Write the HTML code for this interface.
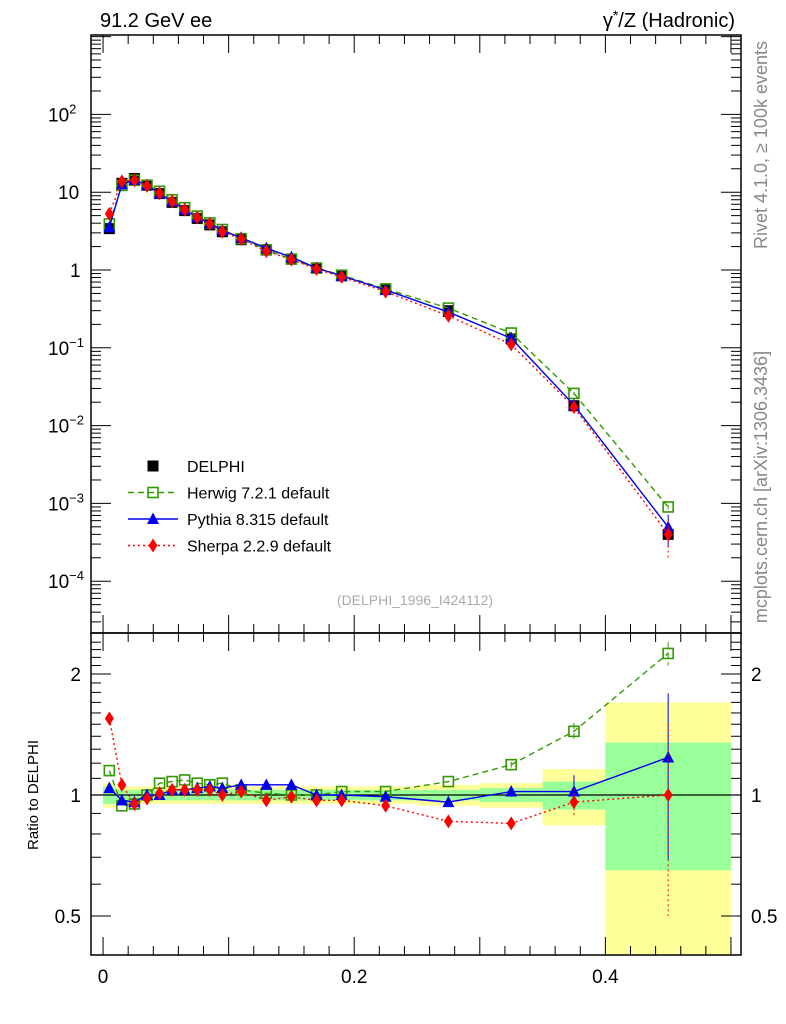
<!DOCTYPE html>
<html><head><meta charset="utf-8"><style>
body{margin:0;background:#fff;}
svg{display:block;font-family:"Liberation Sans",sans-serif;}
</style></head><body>
<svg id="c" width="786" height="1024"></svg>
<script>
const xs=[0.005,0.015,0.025,0.035,0.045,0.055,0.065,0.075,0.085,0.095,0.11,0.13,0.15,0.17,0.19,0.225,0.275,0.325,0.375,0.45];
const edges=[0,0.01,0.02,0.03,0.04,0.05,0.06,0.07,0.08,0.09,0.1,0.12,0.14,0.16,0.18,0.2,0.25,0.3,0.35,0.4,0.5];
const delphi=[3.4,13,15,12.3,9.6,7.4,5.8,4.6,3.8,3.1,2.45,1.8,1.38,1.06,0.84,0.56,0.30,0.13,0.018,0.0004];
const herwigRatio=[1.15,0.94,0.95,1.0,1.07,1.08,1.09,1.07,1.06,1.07,1.03,1.01,1.0,1.0,1.02,1.02,1.08,1.19,1.44,2.25];
const pythiaRatio=[1.04,0.97,0.96,1.0,1.0,1.03,1.03,1.04,1.05,1.04,1.06,1.06,1.06,1.0,1.0,0.99,0.96,1.02,1.02,1.24];
const sherpaRatio=[1.55,1.06,0.95,0.98,1.01,1.03,1.03,1.03,1.03,1.0,1.02,0.97,0.99,0.97,0.97,0.94,0.86,0.85,0.96,1.0];
const statBand=[0.05,0.03,0.03,0.03,0.03,0.03,0.03,0.03,0.03,0.03,0.03,0.03,0.03,0.03,0.03,0.03,0.03,0.04,0.08,0.35];
const totBand=[0.07,0.05,0.05,0.05,0.05,0.05,0.05,0.05,0.05,0.05,0.05,0.05,0.05,0.05,0.05,0.05,0.06,0.07,0.16,0.7];
const mainTicks=[2,1,0,-1,-2,-3,-4];
const ratioTicks=[2,1,0.5];
const xTicks=[0,0.2,0.4];

const NS="http://www.w3.org/2000/svg";
const svg=document.getElementById('c');
function el(t,a,p){const e=document.createElementNS(NS,t);for(const k in a)e.setAttribute(k,a[k]);(p||svg).appendChild(e);return e;}
const L=91,R=741,T=35,M=633,B=955;
const X=v=>L+(v+0.0096)/(0.5176)*(R-L);
const YM=v=>270-Math.log10(v)*77.8;
const YR=v=>795-Math.log2(v)*121;

const gb=el('g',{});


for(let i=0;i<xs.length;i++){
  const x0=X(edges[i]),x1=X(edges[i+1]);
  const t1=Math.min(2.5,1+totBand[i]),t0=Math.max(0.4,1-totBand[i]);
  el('rect',{x:x0,y:YR(t1),width:x1-x0,height:YR(t0)-YR(t1),fill:'#ffff99'},gb);
  const s1=1+statBand[i],s0=1-statBand[i];
  el('rect',{x:x0,y:YR(s1),width:x1-x0,height:YR(s0)-YR(s1),fill:'#99ff99'},gb);
}
el('line',{x1:L,x2:R,y1:YR(1),y2:YR(1),stroke:'#000','stroke-width':1.3});

const f1=el('rect',{x:L,y:T,width:R-L,height:M-T,fill:'none',stroke:'#000','stroke-width':1.5});

const f2=el('rect',{x:L,y:M,width:R-L,height:B-M,fill:'none',stroke:'#000','stroke-width':1.5});


for(let d=-5;d<=3;d++){
  for(let m=1;m<10;m++){
    const v=m*Math.pow(10,d),y=YM(v);
    if(y<T||y>M)continue;
    const len=m===1?20:10;
    el('line',{x1:L,x2:L+len,y1:y,y2:y,stroke:'#000'});
    el('line',{x1:R,x2:R-len,y1:y,y2:y,stroke:'#000'});
  }
}
const labels={2:'10<tspan dy="-8" font-size="13">2</tspan>',1:'10',0:'1',[-1]:'10<tspan dy="-8" font-size="13">−1</tspan>',[-2]:'10<tspan dy="-8" font-size="13">−2</tspan>',[-3]:'10<tspan dy="-8" font-size="13">−3</tspan>',[-4]:'10<tspan dy="-8" font-size="13">−4</tspan>'};
mainTicks.forEach(d=>{
  const t=el('text',{x:d<0||d==2?48:(d==1?58:70),y:YM(Math.pow(10,d))+7,'font-size':19});
  t.innerHTML=labels[d];
  
});
[0.4,0.5,0.6,0.7,0.8,0.9,1,2].forEach(v=>{
  const y=YR(v),len=(v===0.5||v===1||v===2)?20:10;
  el('line',{x1:L,x2:L+len,y1:y,y2:y,stroke:'#000'});
  el('line',{x1:R,x2:R-len,y1:y,y2:y,stroke:'#000'});
});
for(let v=1.1;v<2.5;v+=0.1){const y=YR(v);if(y<M)continue;el('line',{x1:L,x2:L+10,y1:y,y2:y,stroke:'#000'});el('line',{x1:R,x2:R-10,y1:y,y2:y,stroke:'#000'});}
ratioTicks.forEach(v=>{
  const s=String(v);
  const t=el('text',{x:L-10,y:YR(v)+7,'font-size':19,'text-anchor':'end'});t.textContent=s;
  
  const t2=el('text',{x:R+10,y:YR(v)+7,'font-size':19});t2.textContent=s;
  
});
for(let v=0;v<=0.5001;v+=0.02){
  const x=X(v),major=Math.abs(v*10-Math.round(v*10))<1e-6;
  const len=major?18:9;
  [[T,1],[M,-1],[M,1],[B,-1]].forEach(([y,s])=>el('line',{x1:x,x2:x,y1:y,y2:y+s*len,stroke:'#000'}));
}
xTicks.forEach(v=>{
  const t=el('text',{x:X(v),y:983,'font-size':19,'text-anchor':'middle'});t.textContent=v===0?'0':String(v);
  
});

function marker(kind,x,y,g){
  if(kind==='sq')el('rect',{x:x-5.5,y:y-5.5,width:11,height:11,fill:'#000'},g);
  if(kind==='osq')el('rect',{x:x-5,y:y-5,width:10,height:10,fill:'#fff','fill-opacity':0,stroke:'#339900','stroke-width':1.6},g);
  if(kind==='tri')el('polygon',{points:`${x},${y-6.5} ${x-6},${y+5} ${x+6},${y+5}`,fill:'#0000ee'},g);
  if(kind==='dia')el('polygon',{points:`${x},${y-7} ${x-4.5},${y} ${x},${y+7} ${x+4.5},${y}`,fill:'#ff0000'},g);
}
const series=[
 {name:'herwig',ratio:herwigRatio,color:'#339900',dash:'6,4',kind:'osq',err:[0,0,0,0,0,0,0,0,0,0,0,0,0,0,0,0,0,0.02,0.07,0.15]},
 {name:'pythia',ratio:pythiaRatio,color:'#0000ee',dash:'',kind:'tri',err:[0,0,0,0,0,0,0,0,0,0,0,0,0,0,0,0,0,0.03,0.1,0.55]},
 {name:'sherpa',ratio:sherpaRatio,color:'#ff0000',dash:'2,3',kind:'dia',err:[0,0,0,0,0,0,0,0,0,0,0,0,0,0,0,0,0,0.03,0.08,0.5]}
];
series.forEach(s=>{
  const g=el('g',{});
  
  const gr=el('g',{});
  
  const pm=xs.map((x,i)=>[X(x),YM(delphi[i]*s.ratio[i])]);
  const pr=xs.map((x,i)=>[X(x),YR(s.ratio[i])]);
  el('polyline',{points:pm.map(p=>p.join(',')).join(' '),fill:'none',stroke:s.color,'stroke-width':1.4,'stroke-dasharray':s.dash},g);
  el('polyline',{points:pr.map(p=>p.join(',')).join(' '),fill:'none',stroke:s.color,'stroke-width':1.4,'stroke-dasharray':s.dash},gr);
  xs.forEach((x,i)=>{
    const e=s.err[i];
    if(e>0){
      const v=delphi[i]*s.ratio[i];
      el('line',{x1:X(x),x2:X(x),y1:YM(v*(1+e/s.ratio[i])),y2:YM(Math.max(v*(1-e/s.ratio[i]),1e-6)),stroke:s.color,'stroke-dasharray':s.dash},g);
      el('line',{x1:X(x),x2:X(x),y1:YR(s.ratio[i]+e),y2:YR(Math.max(s.ratio[i]-e,0.01)),stroke:s.color,'stroke-dasharray':s.dash},gr);
    }
    marker(s.kind,pr[i][0],pr[i][1],gr);
  });
  s.g=g;s.pm=pm;
});
const gd=el('g',{});

xs.forEach((x,i)=>marker('sq',X(x),YM(delphi[i]),gd));
series.forEach(s=>{s.pm.forEach(p=>marker(s.kind,p[0],p[1],s.g));svg.appendChild(s.g);});

const lg=el('g',{});

const leg=[['DELPHI','sq',null,''],['Herwig 7.2.1 default','osq','#339900','6,4'],['Pythia 8.315 default','tri','#0000ee',''],['Sherpa 2.2.9 default','dia','#ff0000','2,3']];
leg.forEach((l,i)=>{
  const y=466+i*26.5;
  const ge=el('g',{},lg);
  
  if(l[2])el('line',{x1:128,x2:178,y1:y,y2:y,stroke:l[2],'stroke-width':1.4,'stroke-dasharray':l[3]},ge);
  marker(l[1],153,y,ge);
  const t=el('text',{x:187,y:y+6,'font-size':16},ge);t.textContent=l[0];
});

function txt(s,a,name){const t=el('text',a);t.textContent=s;return t;}
txt('91.2 GeV ee',{x:100,y:27,'font-size':20},'title-left');
const tr=el('text',{x:735,y:27,'font-size':20,'text-anchor':'end'});
tr.innerHTML='γ<tspan dy="-7" font-size="14">*</tspan><tspan dy="7">/Z (Hadronic)</tspan>';

txt('(DELPHI_1996_I424112)',{x:415,y:605,'font-size':14,fill:'#aaa','text-anchor':'middle'},'analysis-id');
txt('Rivet 4.1.0, ≥ 100k events',{x:0,y:0,'font-size':18,fill:'#888','text-anchor':'middle',transform:'translate(767,145) rotate(-90)'},'rivet-label');
txt('mcplots.cern.ch [arXiv:1306.3436]',{x:0,y:0,'font-size':18,fill:'#888','text-anchor':'middle',transform:'translate(767,487) rotate(-90)'},'mcplots-label');
txt('Ratio to DELPHI',{x:0,y:0,'font-size':15,'text-anchor':'middle',transform:'translate(38,795) rotate(-90)'},'ratio-y-axis-title');
</script>
</body></html>
